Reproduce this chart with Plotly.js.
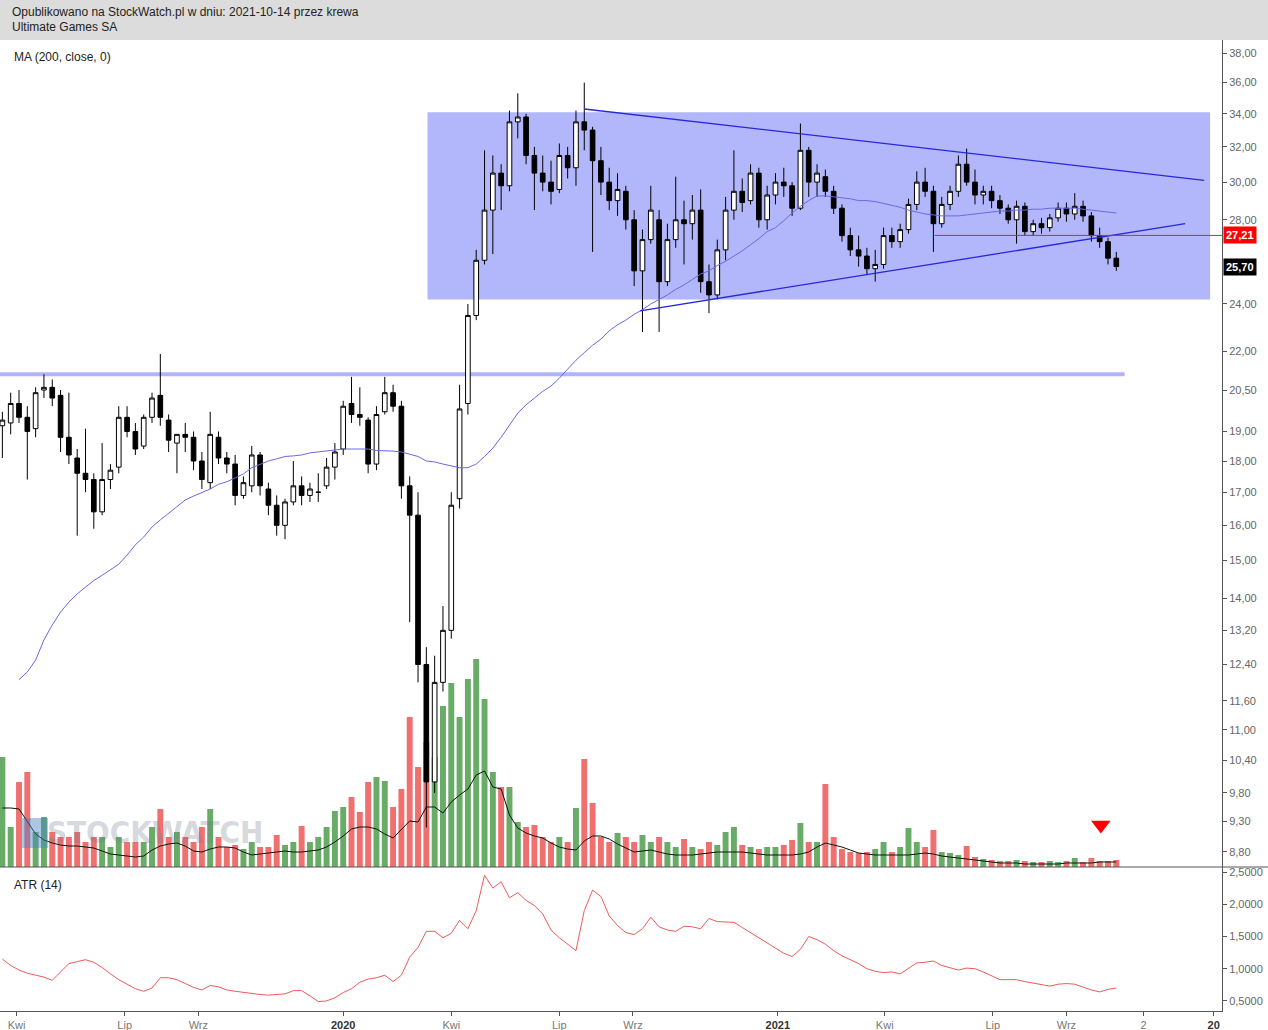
<!DOCTYPE html>
<html><head><meta charset="utf-8">
<script src="https://cdn.plot.ly/plotly-3.0.1.min.js"></script>
<style>
html,body{margin:0;padding:0;background:#fff;}
#chart{position:absolute;left:0;top:0;width:1268px;height:1030px;}
#hdr{position:absolute;left:0;top:0;width:1268px;height:40px;background:#dcdcdc;z-index:5;font:12px "Liberation Sans",Arial,sans-serif;color:#222;}
#hdr div{position:absolute;left:12px;}
</style></head><body>
<div id="chart"></div>
<div id="hdr"><div style="top:5px">Opublikowano na StockWatch.pl w dniu: 2021-10-14 przez krewa</div><div style="top:20px">Ultimate Games SA</div></div>
<script>
// weekly bars (mid-week dates), 2019-03-20 .. 2021-10-13
const weekStart = '2019-03-20';
const weekCount = 135;

const open = [19.2,19.3,20.0,19.5,19.1,20.5,20.6,20.3,18.8,18.1,
17.6,17.4,16.4,17.4,17.8,19.5,19.0,18.5,19.5,20.3,
19.4,18.6,18.9,18.8,18.0,17.3,18.8,18.1,17.9,16.9,
17.2,18.2,17.1,16.6,16.0,16.7,17.2,16.9,17.0,17.2,
17.8,18.4,20.0,19.6,19.4,17.9,19.7,20.4,19.9,17.2,
16.3,12.4,10.0,12.0,13.2,16.8,20.0,23.5,26.0,28.5,
30.5,29.8,33.5,33.8,31.5,30.5,30.0,29.6,31.5,30.8,
33.5,33.0,31.2,30.0,29.0,29.5,28.0,25.5,27.0,28.0,
25.0,27.0,28.0,27.8,28.5,25.0,24.4,26.5,28.5,29.5,
29.0,30.5,28.0,29.3,30.0,29.8,28.6,31.8,30.0,30.3,
29.5,28.6,27.2,26.5,26.2,25.6,25.8,27.2,26.9,27.5,
28.8,30.0,29.5,27.8,28.8,29.5,31.0,30.0,29.3,29.5,
29.0,28.6,28.0,28.7,27.4,27.8,27.6,28.1,28.6,28.3,
28.7,28.2,27.2,26.9,26.1];
const high = [19.7,20.4,20.5,19.9,20.6,21.1,20.9,20.5,20.4,18.4,
19.1,17.6,18.6,17.9,19.9,19.9,19.3,19.6,20.4,21.9,
19.6,18.9,19.3,19.0,18.3,19.7,19.0,18.3,18.2,17.5,
18.5,18.3,17.3,16.9,16.8,18.0,17.5,17.3,17.6,18.1,
18.6,20.1,21.0,20.6,19.5,19.9,21.0,20.7,20.1,17.5,
17.0,12.8,12.6,13.8,17.0,20.7,24.0,26.5,31.8,31.5,
31.0,34.2,35.3,34.0,32.0,31.5,31.2,32.2,32.0,34.2,
36.0,33.2,32.0,30.8,30.5,29.8,28.5,27.5,29.8,28.5,
27.8,30.3,29.0,29.3,29.6,25.8,27.0,29.2,31.8,30.2,
31.0,30.8,29.8,30.5,30.8,30.0,33.4,32.0,31.0,30.7,
29.8,28.8,27.6,27.2,26.6,26.5,27.6,27.6,27.8,29.1,
30.6,30.8,29.8,29.2,29.8,31.5,31.9,30.7,29.8,29.8,
29.3,28.8,29.0,28.9,28.0,28.1,28.3,28.9,28.9,29.4,
29.0,28.4,27.6,27.1,26.4];
const low = [18.1,18.9,19.3,17.4,18.8,20.2,19.9,18.3,17.9,15.7,
17.0,15.9,16.3,17.1,17.6,18.8,18.2,18.4,19.3,19.2,
18.3,17.6,18.3,17.7,17.1,17.1,17.9,17.6,16.6,16.8,
17.0,16.9,16.3,15.7,15.6,16.6,16.6,16.7,16.7,17.1,
17.4,18.2,19.3,19.2,17.6,17.7,19.6,19.7,16.8,13.4,
12.0,9.2,9.8,11.8,13.0,16.5,19.6,23.3,25.8,26.3,
28.5,29.5,32.5,31.0,28.5,29.5,28.8,29.4,30.2,29.8,
31.8,26.4,29.3,28.5,28.2,27.5,24.8,22.8,26.8,22.8,
24.8,26.6,25.8,27.0,24.5,23.6,24.2,26.0,28.0,28.4,
28.8,27.6,27.5,28.8,29.2,28.2,28.5,29.2,29.2,29.2,
28.3,26.9,26.2,25.7,25.3,25.0,25.6,26.6,26.6,27.3,
28.5,29.2,26.4,27.6,28.5,29.2,29.8,28.8,28.8,28.6,
28.3,27.8,26.8,27.2,27.2,27.3,27.4,27.9,27.9,28.0,
27.9,26.9,26.6,25.8,25.5];
const close = [19.4,20.0,19.5,19.0,20.4,20.6,20.2,18.8,18.2,17.6,
17.4,16.4,17.4,17.7,19.5,19.0,18.4,19.5,20.2,19.5,
18.7,18.9,18.8,18.0,17.4,18.9,18.1,17.9,16.9,17.3,
18.2,17.2,16.6,16.0,16.7,17.2,16.9,17.1,17.0,17.8,
18.3,19.9,19.6,19.5,17.9,19.6,20.4,19.9,17.2,16.3,
12.4,10.0,12.0,13.2,16.6,19.8,23.5,26.0,28.5,30.5,
29.8,33.5,33.8,31.5,30.5,30.0,29.5,31.5,30.8,33.5,
33.0,31.2,30.0,29.0,29.6,28.0,25.5,27.0,28.5,25.0,
27.0,28.0,27.8,28.5,25.0,24.4,26.5,28.5,29.5,28.9,
30.5,28.0,29.3,30.0,29.8,28.6,31.8,30.0,30.5,29.5,
28.6,27.2,26.5,26.2,25.6,25.8,27.2,26.9,27.5,28.8,
30.0,29.5,27.8,28.8,29.5,31.0,30.0,29.3,29.5,29.0,
28.6,28.0,28.7,27.4,27.8,27.6,28.1,28.6,28.3,28.7,
28.2,27.2,26.9,26.1,25.7];
const ma200 = [null,null,12.06,12.23,12.5,12.97,13.33,13.65,13.9,14.11,
14.29,14.46,14.6,14.74,14.9,15.15,15.44,15.66,15.95,16.16,
16.36,16.55,16.76,16.88,17.0,17.1,17.25,17.33,17.45,17.58,
17.78,17.9,18.0,18.07,18.15,18.17,18.2,18.27,18.3,18.33,
18.35,18.4,18.4,18.4,18.4,18.35,18.35,18.33,18.3,18.23,
18.15,18.0,17.97,17.9,17.85,17.78,17.78,17.9,18.15,18.43,
18.8,19.2,19.65,19.95,20.2,20.45,20.65,20.95,21.3,21.65,
21.95,22.25,22.5,22.85,23.1,23.3,23.55,23.75,24.0,24.2,
24.4,24.65,24.85,25.1,25.35,25.5,25.75,25.95,26.2,26.45,
26.75,27.05,27.4,27.6,27.95,28.35,28.7,29.0,29.25,29.25,
29.2,29.15,29.1,29.0,29.0,28.95,28.85,28.75,28.65,28.5,
28.4,28.3,28.25,28.2,28.2,28.2,28.25,28.3,28.35,28.4,
28.45,28.45,28.5,28.5,28.55,28.55,28.6,28.6,28.6,28.6,
28.55,28.5,28.45,28.4,28.35];
const volume = [110,40,85,95,35,50,35,30,30,35,
25,30,30,20,30,25,25,25,40,58,
30,35,30,25,40,58,30,20,22,18,
25,20,20,32,22,25,41,25,30,40,
56,60,70,55,85,90,86,60,78,150,
100,125,110,161,184,150,188,208,168,95,
80,80,45,40,42,30,25,30,25,59,
108,64,30,25,34,30,25,32,25,30,
25,20,28,20,18,25,22,35,40,22,
20,18,20,20,22,27,44,25,25,83,
30,18,15,14,15,18,25,15,20,39,
25,20,37,15,14,12,21,10,8,7,
6,6,7,6,5,5,6,5,6,9,
5,9,6,6,7];
const volumeMA = [59,59,58,45,33,27,24,22,21,21,
20,19,16,13,12,11,10,11,17,21,
23,24,21,16,15,18,20,20,19,15,
12,13,14,15,16,15,15,16,17,20,
25,31,38,40,40,38,33,29,38,46,
45,60,60,54,65,72,78,92,96,80,
78,52,39,34,31,29,24,20,18,17,
26,31,31,28,23,19,15,16,17,15,
13,12,12,12,13,14,15,15,15,15,
14,13,12,12,12,12,13,15,20,24,
22,20,17,14,13,12,12,12,12,12,
13,14,13,11,10,9,8,7,6,5,
4,4,4,3,3,3,3,3,4,4,
4,4,5,5,5];
const atr = [1.15,1.05,0.98,0.93,0.90,0.87,0.82,0.95,1.08,1.11,
1.14,1.10,1.02,0.92,0.83,0.76,0.69,0.65,0.70,0.86,
0.86,0.83,0.77,0.71,0.67,0.74,0.72,0.67,0.65,0.63,
0.61,0.60,0.59,0.60,0.61,0.66,0.66,0.58,0.49,0.50,
0.55,0.63,0.69,0.79,0.84,0.86,0.90,0.80,0.90,1.18,
1.33,1.58,1.58,1.48,1.55,1.75,1.62,1.90,2.45,2.25,
2.35,2.10,2.18,2.06,1.98,1.85,1.60,1.48,1.38,1.28,
1.90,2.22,2.12,1.82,1.67,1.56,1.53,1.62,1.80,1.65,
1.60,1.58,1.66,1.65,1.62,1.78,1.73,1.73,1.72,1.64,
1.56,1.48,1.40,1.32,1.24,1.19,1.30,1.50,1.45,1.38,
1.28,1.20,1.14,1.08,1.00,0.96,0.94,0.95,0.92,1.00,
1.09,1.10,1.12,1.05,1.01,0.98,1.01,1.00,0.95,0.89,
0.83,0.83,0.83,0.80,0.78,0.75,0.73,0.76,0.77,0.76,
0.71,0.67,0.64,0.68,0.70];

const priceTicks = [8.8,9.3,9.8,10.4,11,11.6,12.4,13.2,14,15,16,17,18,19,20.5,22,24,28,30,32,34,36,38];
const atrTicks = [0.5,1,1.5,2,2.5];
const xTickDates = ['2019-04-01','2019-07-01','2019-09-01','2020-01-01','2020-04-01','2020-07-01','2020-09-01','2021-01-01','2021-04-01','2021-07-01','2021-09-01','2021-11-05','2022-01-03'];
const xTickLabels = ['Kwi','Lip','Wrz','<span style="color:#333"><b>2020</b></span>','Kwi','Lip','Wrz','<span style="color:#333"><b>2021</b></span>','Kwi','Lip','Wrz','2','<span style="color:#333"><b>20</b></span>'];

// drawing levels (price units)
const boxDates = ['2020-03-12','2021-12-31'];
const boxLow = 24.2, boxHigh = 34.1;
const resistanceDates = ['2019-03-18','2021-10-20'];
const resistance = 21.1;
const upperTrendDates = ['2020-07-22','2021-12-26'], upperTrendPrices = [34.3,30.1];
const lowerTrendDates = ['2020-09-07','2021-12-10'], lowerTrendPrices = [23.7,27.8];
const redLevelDates = ['2021-05-13','2022-01-10'];
const redLevel = 27.21, lastPrice = 25.70;
const signalDate = '2021-09-30', signalLevel = 42;

// build dates
const dates = [];
{ let t = Date.parse(weekStart + 'T00:00:00Z');
  for (let i = 0; i < weekCount; i++) { dates.push(new Date(t + i*7*86400000).toISOString().slice(0,10)); } }

const volColors = close.map((c,i)=> c >= open[i] ? 'rgb(104,172,104)' : 'rgb(240,112,112)');
const L = Math.log10;
const SPLIT = 144/971;
const priceRange = [L(8.557), L(38.92)];
const lineTrace = (x, y, color, width, ax) => ({type:'scatter', mode:'lines', x:x, y:y, xaxis:'x', yaxis:ax||'y4', line:{color:color, width:width}});

// subplot order: xy (background drawings) < xy2 (ATR) < xy3 (volume) < xy4 (price)
const traces = [
  {type:'scatter', mode:'lines', x:[boxDates[0],boxDates[1],boxDates[1],boxDates[0],boxDates[0]], y:[boxLow,boxLow,boxHigh,boxHigh,boxLow],
    xaxis:'x', yaxis:'y', fill:'toself', fillcolor:'rgb(178,182,250)', line:{width:0, color:'rgba(0,0,0,0)'}},
  lineTrace(resistanceDates, [resistance,resistance], 'rgb(176,180,248)', 4, 'y'),
  {type:'scatter', mode:'lines', x:dates, y:atr, xaxis:'x', yaxis:'y2', line:{color:'rgb(240,90,90)', width:1}},
  {type:'bar', x:dates, y:volume, xaxis:'x', yaxis:'y3', marker:{color:volColors, line:{width:0}}, width:5*86400000, hoverinfo:'skip'},
  {type:'scatter', mode:'lines', x:dates, y:volumeMA, xaxis:'x', yaxis:'y3', line:{color:'#111', width:1}},
  {type:'scatter', mode:'markers', x:[signalDate], y:[signalLevel], xaxis:'x', yaxis:'y3', marker:{symbol:'triangle-down', size:17, color:'#ff0000'}},
  lineTrace(dates, ma200, 'rgb(105,105,230)', 1),
  {type:'candlestick', x:dates, open:open, high:high, low:low, close:close, xaxis:'x', yaxis:'y4',
    whiskerwidth:0,
    increasing:{line:{color:'#000', width:1}, fillcolor:'#ffffff'},
    decreasing:{line:{color:'#000', width:1}, fillcolor:'#000000'}},
  lineTrace(upperTrendDates, upperTrendPrices, 'rgb(40,40,215)', 1.3),
  lineTrace(lowerTrendDates, lowerTrendPrices, 'rgb(40,40,215)', 1.3),
  lineTrace(redLevelDates, [redLevel,redLevel], 'rgb(230,30,60)', 1)
];

const axisCommon = {showgrid:false, zeroline:false, showline:true, linecolor:'#555', linewidth:1,
  ticks:'outside', ticklen:4, tickcolor:'#555', tickfont:{size:11, color:'#666'}};

const layout = {
  width:1268, height:1030,
  margin:{l:0, r:46, t:40, b:19},
  paper_bgcolor:'#fff', plot_bgcolor:'rgba(0,0,0,0)',
  separators:',.',
  showlegend:false,
  hovermode:false,
  boxgap:0.2,
  font:{family:'Liberation Sans, Arial, sans-serif', size:11, color:'#666'},
  xaxis:Object.assign({}, axisCommon, {type:'date', range:['2019-03-18','2022-01-10'], anchor:'y2',
    tickvals:xTickDates, ticktext:xTickLabels, rangeslider:{visible:false}, tickfont:{size:11, color:'#777'}}),
  yaxis:{type:'log', domain:[SPLIT,1], range:priceRange, visible:false, showgrid:false, zeroline:false, anchor:'x'},
  yaxis2:Object.assign({}, axisCommon, {domain:[0,SPLIT], side:'right', anchor:'x',
    range:[0.344,2.578], tickvals:atrTicks, tickformat:'.4f'}),
  yaxis3:{domain:[SPLIT,1], range:[0,827], visible:false, showgrid:false, zeroline:false, anchor:'x'},
  yaxis4:Object.assign({}, axisCommon, {type:'log', domain:[SPLIT,1], side:'right', anchor:'x',
    range:priceRange, tickvals:priceTicks, tickformat:'.2f'}),
  shapes:[
    {type:'line', xref:'paper', yref:'paper', x0:0, x1:1268/1222, y0:SPLIT, y1:SPLIT, line:{color:'#555', width:1}},
    {type:'rect', xref:'paper', yref:'paper', x0:22/1222, x1:48/1222, y0:(1011-848)/971, y1:(1011-818)/971,
      fillcolor:'rgba(70,130,200,0.45)', line:{width:0}}
  ],
  annotations:[
    {xref:'paper', yref:'paper', x:12/1222, y:(1011-57)/971, xanchor:'left', yanchor:'middle', showarrow:false,
      text:'MA (200, close, 0)', font:{size:12, color:'#222'}},
    {xref:'paper', yref:'paper', x:12/1222, y:(1011-885)/971, xanchor:'left', yanchor:'middle', showarrow:false,
      text:'ATR (14)', font:{size:12, color:'#222'}},
    {xref:'paper', yref:'paper', x:155/1222, y:(1011-832)/971, xanchor:'center', yanchor:'middle', showarrow:false,
      text:'<b>STOCKWATCH</b>', font:{size:31, family:'Liberation Sans Narrow, DejaVu Sans Condensed, Liberation Sans, sans-serif', color:'rgba(110,122,140,0.3)'}},
    {xref:'paper', yref:'y4', x:1, y:L(redLevel), xanchor:'left', yanchor:'middle', xshift:1, showarrow:false,
      text:'<b>27,21</b>', bgcolor:'#ff0000', borderpad:2, font:{size:11, color:'#fff'}},
    {xref:'paper', yref:'y4', x:1, y:L(lastPrice), xanchor:'left', yanchor:'middle', xshift:1, showarrow:false,
      text:'<b>25,70</b>', bgcolor:'#000000', borderpad:2, font:{size:11, color:'#fff'}}
  ]
};

Plotly.newPlot('chart', traces, layout, {staticPlot:true, displayModeBar:false});
</script>
</body></html>
